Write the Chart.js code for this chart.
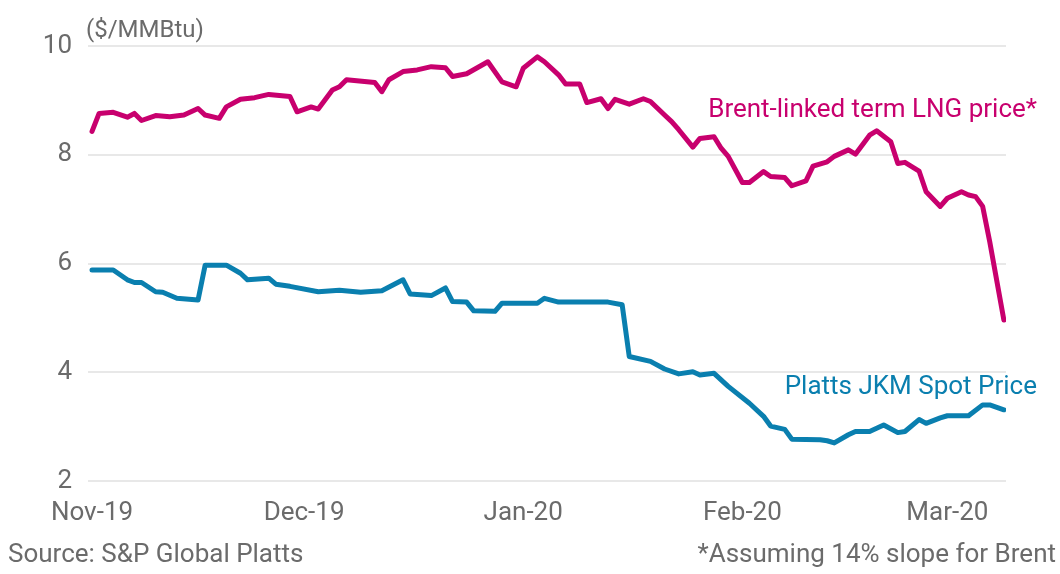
<!DOCTYPE html>
<html>
<head>
<meta charset="utf-8">
<script src="https://cdn.jsdelivr.net/npm/chart.js@4.4.1/dist/chart.umd.min.js"></script>
<style>
  html, body { margin: 0; padding: 0; background: #fff; }
  #wrap { width: 1060px; height: 574px; position: relative; }
</style>
</head>
<body>
<div id="wrap"><canvas id="myChart1"></canvas></div>
<script>
// days counted from 1 Nov 2019
const monthStarts = [0, 30, 61, 92, 121];
const monthLabels = ["Nov-19", "Dec-19", "Jan-20", "Feb-20", "Mar-20"];
const yTicks = [2, 4, 6, 8, 10];

const brentDays = [0, 1, 3, 5, 6, 7, 9, 11, 13, 15, 16, 18, 19, 21, 23, 25, 28, 29, 31, 32,
    34, 35, 36, 40, 41, 42, 44, 46, 48, 50, 51, 53, 56, 58, 60, 61, 63, 64, 66, 67,
    69, 70, 72, 73, 74, 76, 78, 79, 81, 82, 83, 85, 86, 88, 89, 90, 92, 93, 95, 96,
    98, 99, 101, 102, 104, 105, 107, 108, 110, 111, 113, 114, 115, 117, 118, 120, 121, 123, 124, 125,
    126, 127, 129];
const brentPrice = [8.43, 8.76, 8.78, 8.69, 8.76, 8.63, 8.72, 8.70, 8.73, 8.85, 8.73, 8.67, 8.88, 9.02, 9.05, 9.11, 9.07, 8.79, 8.88, 8.84,
    9.19, 9.25, 9.38, 9.33, 9.16, 9.38, 9.53, 9.56, 9.62, 9.60, 9.44, 9.49, 9.71, 9.34, 9.25, 9.59, 9.80, 9.71, 9.47, 9.30,
    9.30, 8.96, 9.03, 8.85, 9.02, 8.93, 9.03, 8.98, 8.73, 8.61, 8.46, 8.14, 8.30, 8.33, 8.12, 7.97, 7.49, 7.49, 7.69, 7.60,
    7.58, 7.43, 7.52, 7.79, 7.87, 7.97, 8.09, 8.01, 8.36, 8.44, 8.24, 7.84, 7.86, 7.70, 7.32, 7.05, 7.20, 7.32, 7.26, 7.23,
    7.05, 6.40, 4.96];

const jkmDays = [0, 3, 5, 6, 7, 9, 10, 12, 15, 16, 19, 21, 22, 25, 26, 28, 32, 35, 38, 41,
    44, 45, 48, 50, 51, 53, 54, 57, 58, 63, 64, 66, 73, 75, 76, 79, 81, 83, 85, 86,
    88, 90, 93, 95, 96, 98, 99, 103, 104, 105, 107, 108, 110, 112, 114, 115, 117, 118, 120, 121,
    124, 126, 127, 129];
const jkmPrice = [5.88, 5.88, 5.70, 5.65, 5.65, 5.48, 5.47, 5.36, 5.33, 5.97, 5.97, 5.82, 5.70, 5.73, 5.62, 5.58, 5.48, 5.51, 5.47, 5.50,
    5.70, 5.44, 5.41, 5.55, 5.30, 5.29, 5.13, 5.12, 5.27, 5.27, 5.36, 5.29, 5.29, 5.24, 4.29, 4.20, 4.06, 3.97, 4.01, 3.95,
    3.98, 3.74, 3.43, 3.19, 3.01, 2.95, 2.77, 2.76, 2.74, 2.70, 2.85, 2.91, 2.91, 3.03, 2.89, 2.91, 3.13, 3.06, 3.16, 3.20,
    3.20, 3.40, 3.40, 3.31];

const magenta = '#C8006E';
const blue = '#0A7FAF';
const grey = '#6B6B6B';
const fontFamily = 'Roboto, sans-serif';

function toPoints(days, values) {
    return days.map(function(d, i) { return { x: d, y: values[i] }; });
}

const textPlugin = {
    id: 'texts',
    afterDraw: function(chart) {
        const ctx = chart.ctx;
        ctx.save();
        ctx.textBaseline = 'alphabetic';
        ctx.fillStyle = grey;
        ctx.textAlign = 'left';
        ctx.font = '24px ' + fontFamily;
        ctx.fillText('($/MMBtu)', 86, 37);
        ctx.font = '26px ' + fontFamily;
        ctx.fillText('Source: S&P Global Platts', 8, 562);
        ctx.textAlign = 'right';
        ctx.fillText('*Assuming 14% slope for Brent', 1056, 562);
        ctx.fillStyle = magenta;
        ctx.fillText('Brent-linked term LNG price*', 1037, 117);
        ctx.fillStyle = blue;
        ctx.fillText('Platts JKM Spot Price', 1037, 394);
        ctx.restore();
    }
};

const config = {
    type: 'line',
    data: {
        datasets: [{
            label: 'Brent-linked term LNG price*',
            data: toPoints(brentDays, brentPrice),
            borderColor: magenta,
            borderWidth: 5,
            borderJoinStyle: 'round',
            borderCapStyle: 'round',
            pointRadius: 0,
            tension: 0
        }, {
            label: 'Platts JKM Spot Price',
            data: toPoints(jkmDays, jkmPrice),
            borderColor: blue,
            borderWidth: 5,
            borderJoinStyle: 'round',
            borderCapStyle: 'round',
            pointRadius: 0,
            tension: 0
        }]
    },
    options: {
        responsive: true,
        maintainAspectRatio: false,
        animation: false,
        layout: {
            padding: { left: 0, right: 54, top: 46, bottom: 33 }
        },
        scales: {
            x: {
                type: 'linear',
                min: -0.57,
                max: 129.3,
                afterBuildTicks: function(scale) {
                    scale.ticks = monthStarts.map(function(v) { return { value: v }; });
                },
                afterFit: function(scale) { scale.height = 60; },
                ticks: {
                    autoSkip: false,
                    maxRotation: 0,
                    padding: 9,
                    color: grey,
                    font: { family: fontFamily, size: 26 },
                    callback: function(value) {
                        const i = monthStarts.indexOf(value);
                        return i >= 0 ? monthLabels[i] : '';
                    }
                },
                grid: { display: false },
                border: { display: false }
            },
            y: {
                min: 2,
                max: 10,
                afterBuildTicks: function(scale) {
                    scale.ticks = yTicks.map(function(v) { return { value: v }; });
                },
                afterFit: function(scale) { scale.width = 88; },
                ticks: {
                    padding: 16,
                    color: grey,
                    font: { family: fontFamily, size: 26 }
                },
                grid: {
                    color: '#E8E8E8',
                    lineWidth: 2,
                    drawTicks: false
                },
                border: { display: false }
            }
        },
        plugins: {
            legend: { display: false },
            tooltip: { enabled: false }
        }
    },
    plugins: [textPlugin]
};

var myChart = new Chart(document.getElementById('myChart1'), config);
</script>
</body>
</html>
